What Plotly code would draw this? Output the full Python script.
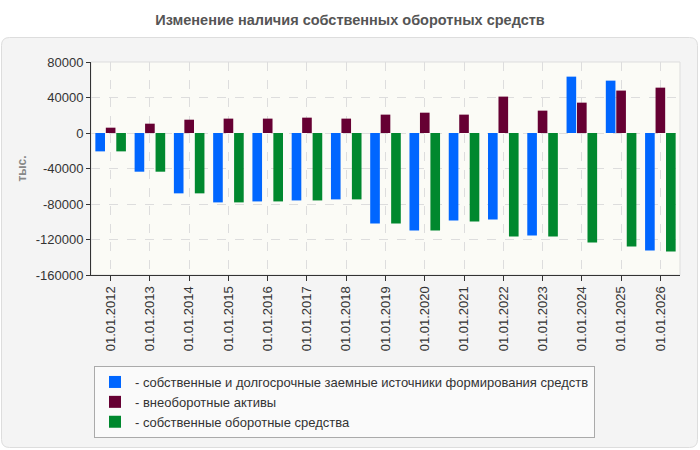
import plotly.graph_objects as go

categories = ["01.01.2012", "01.01.2013", "01.01.2014", "01.01.2015", "01.01.2016",
              "01.01.2017", "01.01.2018", "01.01.2019", "01.01.2020", "01.01.2021",
              "01.01.2022", "01.01.2023", "01.01.2024", "01.01.2025", "01.01.2026"]

sources = [-20700, -43600, -68000, -78200, -77100, -76000, -74800, -101900, -109800,
           -98500, -97400, -115400, 63500, 59000, -132400]
noncurrent = [6000, 10500, 15000, 16200, 16200, 17300, 16200, 20700, 22900,
              20700, 41000, 25200, 34200, 47800, 51100]
working = [-20700, -43600, -68000, -78200, -77100, -76000, -74800, -101900, -109800,
           -99600, -116600, -116600, -123300, -127800, -133500]

names = ["- собственные и долгосрочные заемные источники формирования средств",
         "- внеоборотные активы",
         "- собственные оборотные средства"]
colors = ["#0066ff", "#660033", "#00882e"]
y_ticks = [80000, 40000, 0, -40000, -80000, -120000, -160000]

W, H = 700, 450
L, R, T, B = 91, 20, 62, 175
pw, ph = W - L - R, H - T - B


def px(x):
    return (x - L) / pw


def py(y):
    return (H - B - y) / ph


def rounded(x0, y0, x1, y1, r):
    rx, ry = r / pw, r / ph
    X0, X1 = px(x0), px(x1)
    Y0, Y1 = py(y0), py(y1)  # Y0 top, Y1 bottom
    return (f"M {X0+rx},{Y0} L {X1-rx},{Y0} Q {X1},{Y0} {X1},{Y0-ry} "
            f"L {X1},{Y1+ry} Q {X1},{Y1} {X1-rx},{Y1} L {X0+rx},{Y1} "
            f"Q {X0},{Y1} {X0},{Y1+ry} L {X0},{Y0-ry} Q {X0},{Y0} {X0+rx},{Y0} Z")


fig = go.Figure()
for vals, name, col in zip([sources, noncurrent, working], names, colors):
    fig.add_trace(go.Bar(x=categories, y=vals, name=name, marker_color=col,
                         marker_line_width=0))

fig.update_layout(
    width=W, height=H,
    margin=dict(l=L, r=R, t=T, b=B),
    paper_bgcolor="white",
    plot_bgcolor="rgba(0,0,0,0)",
    barmode="group", bargap=0.2, bargroupgap=0.08,
    font=dict(family="Liberation Sans, Arial, sans-serif", size=13, color="#333"),
    title=dict(text="<b>Изменение наличия собственных оборотных средств</b>",
               x=0.5, xref="container", xanchor="center", y=1 - 20 / H,
               yref="container", yanchor="middle",
               font=dict(size=14.5, color="#555")),
    showlegend=True,
    legend=dict(x=px(94), y=py(366), xanchor="left", yanchor="top",
                bgcolor="#fafafa", bordercolor="#aaaaaa", borderwidth=1,
                font=dict(size=13, color="#333"), tracegroupgap=0,
                itemwidth=30),
    shapes=[
        dict(type="path", xref="paper", yref="paper", layer="below",
             path=rounded(1.5, 37.5, 697.5, 447.5, 8),
             fillcolor="#f4f4f4", line=dict(color="#dddddd", width=1)),
        dict(type="rect", xref="paper", yref="paper", layer="below",
             x0=0, x1=1, y0=0, y1=1, fillcolor="#fbfbf6",
             line=dict(color="#dddddd", width=1)),
    ],
)

fig.update_xaxes(
    tickangle=-90, showgrid=True, gridcolor="#dddddd", griddash="dash",
    showline=True, linecolor="#333", linewidth=1,
    ticks="outside", ticklen=5, tickcolor="#333",
    tickfont=dict(size=13, color="#333"),
)
fig.update_yaxes(
    range=[-160000, 80000], tickvals=y_ticks, ticktext=[str(v) for v in y_ticks],
    showgrid=True, gridcolor="#dddddd", griddash="dash", zeroline=False,
    showline=True, linecolor="#333", linewidth=1,
    ticks="outside", ticklen=4, tickcolor="#333",
    tickfont=dict(size=13, color="#333"),
    title=dict(text="<b>тыс.</b>", font=dict(size=12, color="#888"), standoff=6),
)

fig.write_html("out.html")
